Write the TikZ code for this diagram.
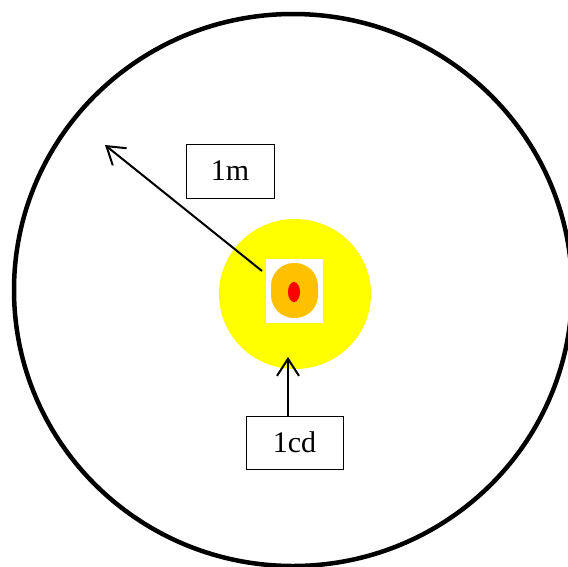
\documentclass[tikz,border=0pt]{standalone}
\usepackage{fontspec}
\setmainfont{Liberation Serif}
\usetikzlibrary{arrows.meta,shapes.geometric}
\definecolor{gold}{HTML}{FFC000}
\definecolor{brightyellow}{HTML}{FFFF00}
\tikzset{
  labelbox/.style={draw=black, line width=0.8pt, fill=white, inner sep=0pt, font=\fontsize{30}{32}\selectfont},
  ptr/.style={line width=2pt, -{Straight Barb[length=17pt,width=22pt,line width=2pt]}},
}
\begin{document}
\begin{tikzpicture}[x=1pt,y=-1pt]
\useasboundingbox (0,0) rectangle (568,566);
\node[draw=black, line width=4.5pt, ellipse, minimum width=558pt, minimum height=552pt, inner sep=0pt] (outer) at (293,290) {};
\node[fill=brightyellow, ellipse, minimum width=152pt, minimum height=150pt, inner sep=0pt] (glow) at (295,294) {};
\node[fill=white, minimum width=57pt, minimum height=64pt, inner sep=0pt] (sq) at (294.5,291) {};
\node[fill=gold, rounded corners=23pt, minimum width=47pt, minimum height=55pt, inner sep=0pt] (core) at (294.5,290.5) {};
\node[fill=red, ellipse, minimum width=12pt, minimum height=20pt, inner sep=0pt] (dot) at (294,292) {};
\node[labelbox, minimum width=88pt, minimum height=54pt] (m) at (230,171) {1m};
\node[labelbox, minimum width=97pt, minimum height=53pt] (cd) at (294.5,442.5) {1cd};
\coordinate (a1s) at (262,271);
\coordinate (a1e) at (105,145);
\coordinate (a2e) at (288,357);
\draw[ptr] (a1s) -- (a1e);
\draw[ptr] (cd.north -| a2e) -- (a2e);
\end{tikzpicture}
\end{document}
